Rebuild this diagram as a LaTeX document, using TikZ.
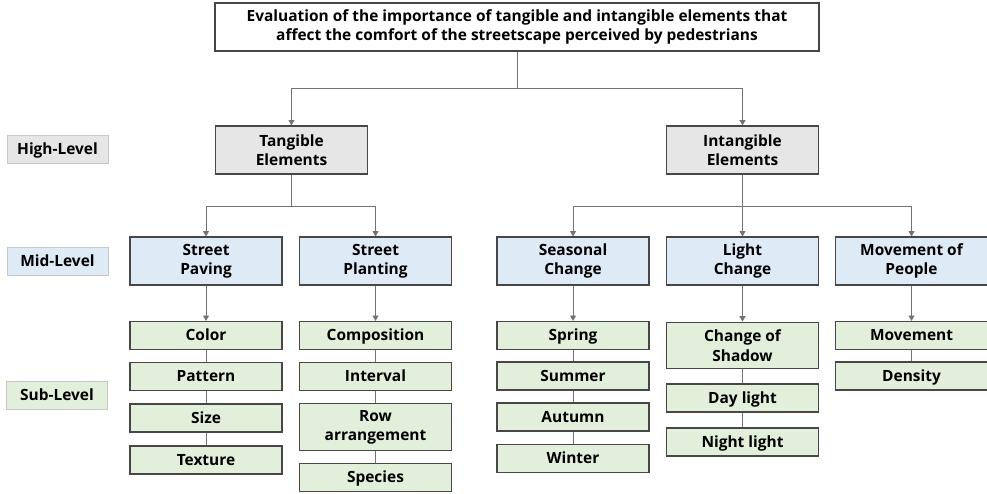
\documentclass[tikz,border=0pt]{standalone}
\usepackage{fontspec}
\setmainfont{Open Sans}
\usepackage{tikz}
\usetikzlibrary{arrows.meta,positioning,calc}

\definecolor{highgray}{HTML}{E7E6E6}
\definecolor{midblue}{HTML}{DEEAF6}
\definecolor{subgreen}{HTML}{E2EFDA}

\begin{document}
\begin{tikzpicture}[
  x=0.75pt, y=-0.75pt,
  tbox/.style     = {rectangle, draw=black!72, line width=0.9pt,
                     align=center, inner sep=0pt,
                     font=\fontsize{11.6}{14.5}\selectfont\bfseries,
                     minimum width=114pt},
  highbox/.style  = {tbox, fill=highgray, minimum height=36pt},
  midbox/.style   = {tbox, fill=midblue, minimum height=36pt},
  subtall/.style  = {tbox, fill=subgreen, minimum height=35pt},
  subbox/.style   = {tbox, fill=subgreen, minimum height=21pt,
                     text height=8.6pt, text depth=0.4pt},
  lvlbox/.style   = {rectangle, draw=black!22, line width=0.5pt,
                     inner sep=0pt, minimum width=75.5pt, minimum height=21pt,
                     text height=8.6pt, text depth=0.4pt,
                     font=\fontsize{11.6}{14.5}\selectfont\bfseries},
  link/.style     = {line width=0.6pt, black!55},
  arr/.style      = {link, -{Triangle[length=4pt,width=4.5pt]}},
]
\useasboundingbox (0,0) rectangle (987,493);

%%═══════════════════════════════════════════════════════════
%% Goal
%%═══════════════════════════════════════════════════════════

\node[tbox, fill=white, minimum width=453pt, minimum height=36pt] (goal) at (517,27)
  {Evaluation of the importance of tangible and intangible elements that\\
   affect the comfort of the streetscape perceived by pedestrians};

%%═══════════════════════════════════════════════════════════
%% Level labels
%%═══════════════════════════════════════════════════════════

\node[lvlbox, fill=highgray] (lvlhigh) at (57.5,149.5) {High-Level};
\node[lvlbox, fill=midblue]  (lvlmid)  at (57.5,261.5) {Mid-Level};
\node[lvlbox, fill=subgreen] (lvlsub)  at (57,395.5)   {Sub-Level};

%%═══════════════════════════════════════════════════════════
%% High level
%%═══════════════════════════════════════════════════════════

\node[highbox] (tang)   at (291.5,150) {Tangible\\Elements};
\node[highbox] (intang) at (742.5,150) {Intangible\\Elements};

\coordinate (jgoal) at (517,88);
\draw[link] (goal.south) -- (jgoal);
\draw[arr]  (jgoal) -| (tang.north);
\draw[arr]  (jgoal) -| (intang.north);

%%═══════════════════════════════════════════════════════════
%% Mid level
%%═══════════════════════════════════════════════════════════

\node[midbox] (paving)   at (206,261)   {Street\\Paving};
\node[midbox] (planting) at (375.5,261) {Street\\Planting};
\node[midbox] (seasonal) at (573,261)   {Seasonal\\Change};
\node[midbox] (light)    at (742.5,261) {Light\\Change};
\node[midbox] (people)   at (911.5,261) {Movement of\\People};

\coordinate (jtang)   at (291.5,206);
\coordinate (jintang) at (742.5,206);
\draw[link] (tang.south) -- (jtang);
\draw[arr]  (jtang) -| (paving.north);
\draw[arr]  (jtang) -| (planting.north);
\draw[link] (intang.south) -- (jintang);
\draw[arr]  (jintang) -| (seasonal.north);
\draw[arr]  (jintang) -- (light.north);
\draw[arr]  (jintang) -| (people.north);

%%═══════════════════════════════════════════════════════════
%% Sub level
%%═══════════════════════════════════════════════════════════

%% Street paving
\node[subbox] (color)   at (206,335.5) {Color};
\node[subbox] (pattern) at (206,376.5) {Pattern};
\node[subbox] (size)    at (206,418)   {Size};
\node[subbox] (texture) at (206,460)   {Texture};

%% Street planting
\node[subbox]  (compos)   at (375.5,335.5) {Composition};
\node[subbox]  (interval) at (375.5,376.5) {Interval};
\node[subtall] (rowarr)   at (375.5,427)   {Row\\arrangement};
\node[subbox]  (species)  at (375.5,477.5) {Species};

%% Seasonal change
\node[subbox] (spring) at (573,335.5) {Spring};
\node[subbox] (summer) at (573,376)   {Summer};
\node[subbox] (autumn) at (573,417)   {Autumn};
\node[subbox] (winter) at (573,458.5) {Winter};

%% Light change
\node[subtall] (shadow)    at (742.5,345.5) {Change of\\Shadow};
\node[subbox]  (daylight)  at (742.5,398)   {Day light};
\node[subbox]  (nightlight) at (742.5,442)  {Night light};

%% Movement of people
\node[subbox] (movement) at (911.5,335.5) {Movement};
\node[subbox] (density)  at (911.5,376)   {Density};

\draw[arr] (paving)   -- (color);
\draw[arr] (planting) -- (compos);
\draw[arr] (seasonal) -- (spring);
\draw[arr] (light)    -- (shadow);
\draw[arr] (people)   -- (movement);

\draw[link] (color)  -- (pattern) (pattern)  -- (size)   (size)   -- (texture);
\draw[link] (compos) -- (interval) (interval) -- (rowarr) (rowarr) -- (species);
\draw[link] (spring) -- (summer) (summer) -- (autumn) (autumn) -- (winter);
\draw[link] (shadow) -- (daylight) (daylight) -- (nightlight);
\draw[link] (movement) -- (density);

\end{tikzpicture}
\end{document}
